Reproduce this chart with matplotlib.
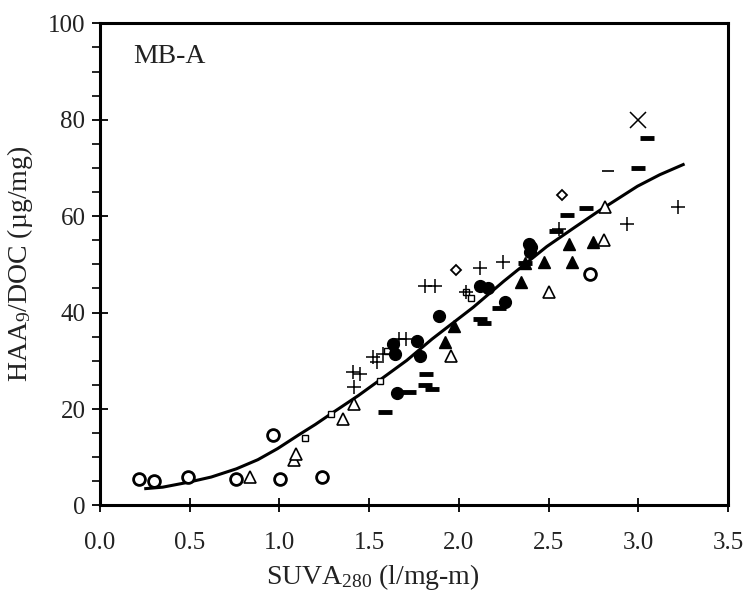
import numpy as np
import matplotlib
matplotlib.use('Agg')
import matplotlib.pyplot as plt
from matplotlib.ticker import MultipleLocator

plt.rcParams['font.family'] = ['Liberation Serif', 'DejaVu Serif']
plt.rcParams['mathtext.fontset'] = 'custom'
plt.rcParams['mathtext.rm'] = 'Liberation Serif'
plt.rcParams['mathtext.it'] = 'Liberation Serif'

# open hexagons / circles
hex_x = [0.215, 0.30, 0.49, 0.76, 0.965, 1.005, 1.24, 2.73]
hex_y = [5.5, 5.0, 5.9, 5.5, 14.7, 5.4, 5.9, 48.1]

# open triangles
tri_x = [0.835, 1.08, 1.095, 1.355, 1.415, 1.955, 2.505, 2.81, 2.815]
tri_y = [5.9, 9.5, 10.6, 18.0, 21.1, 31.1, 44.3, 55.1, 62.0]

# small open squares
sq_x = [1.145, 1.285, 1.56, 1.60, 1.635, 2.04, 2.07]
sq_y = [14.0, 19.0, 25.8, 32.0, 33.6, 44.3, 43.1]

# plus signs
plus_x = [1.415, 1.41, 1.45, 1.52, 1.545, 1.575, 1.665, 1.705, 1.81, 1.865,
          2.04, 2.115, 2.245, 2.56, 2.935, 3.22]
plus_y = [24.5, 27.7, 27.3, 30.8, 29.7, 31.5, 34.6, 34.6, 45.5, 45.5,
          44.3, 49.2, 50.5, 57.4, 58.4, 62.0]

# small open diamonds
dia_x = [1.985, 2.575]
dia_y = [48.8, 64.3]

# filled circles
fc_x = [1.635, 1.645, 1.655, 1.765, 1.785, 1.89, 2.115, 2.16, 2.255, 2.39, 2.395, 2.40]
fc_y = [33.4, 31.5, 23.4, 34.2, 31.1, 39.2, 45.5, 45.2, 42.2, 54.2, 52.5, 53.6]

# filled triangles
ft_x = [1.92, 1.975, 2.345, 2.37, 2.475, 2.615, 2.63, 2.75]
ft_y = [33.8, 37.3, 46.3, 50.2, 50.4, 54.3, 50.5, 54.6]

# bold dashes
bd_x = [1.59, 1.72, 1.815, 1.81, 1.85, 2.115, 2.14, 2.225, 2.37, 2.54,
        2.60, 2.71, 3.00, 3.05]
bd_y = [19.4, 23.5, 27.2, 24.9, 24.2, 38.6, 37.8, 41.0, 50.2, 57.0,
        60.3, 61.6, 70.0, 76.2]

# thin dash and cross
td_x = [2.83]
td_y = [69.3]
cr_x = [3.00]
cr_y = [80.0]

# fitted curve
curve_x = [0.255, 0.35, 0.49, 0.62, 0.76, 0.88, 0.99, 1.11, 1.2, 1.275, 1.44,
           1.57, 1.71, 1.85, 2.08, 2.25, 2.49, 2.65, 2.785, 2.995, 3.12, 3.25]
curve_y = [3.5, 3.8, 4.8, 5.9, 7.6, 9.5, 11.8, 14.7, 16.8, 18.7, 22.8,
           26.3, 30.1, 34.5, 41.1, 46.5, 53.7, 57.8, 61.2, 66.2, 68.6, 70.7]

fig = plt.figure(figsize=(7.49, 5.91), dpi=100)
ax = fig.add_axes([0.1335, 0.1447, 0.8385, 0.8159])

ax.plot(curve_x, curve_y, color='black', lw=2.2, zorder=3)

ax.plot(hex_x, hex_y, 'o', ms=8.5, mfc='white', mec='black', mew=2.0, zorder=4)
ax.plot(tri_x, tri_y, '^', ms=8, mfc='white', mec='black', mew=1.2, zorder=4)
ax.plot(sq_x, sq_y, 's', ms=4.5, mfc='white', mec='black', mew=1.0, zorder=4)
ax.plot(plus_x, plus_y, '+', ms=10, mec='black', mew=1.1, zorder=4)
ax.plot(dia_x, dia_y, 'D', ms=5.5, mfc='white', mec='black', mew=1.3, zorder=4)
ax.plot(fc_x, fc_y, 'o', ms=8.5, color='black', zorder=4)
ax.plot(ft_x, ft_y, '^', ms=8, color='black', zorder=4)
ax.plot(bd_x, bd_y, '_', ms=10, mec='black', mew=3.5, zorder=4)
ax.plot(td_x, td_y, '_', ms=9, mec='black', mew=1.2, zorder=4)
ax.plot(cr_x, cr_y, 'x', ms=11, mec='black', mew=1.1, zorder=4)

ax.set_xlim(0, 3.5)
ax.set_ylim(0, 100)
ax.xaxis.set_major_locator(MultipleLocator(0.5))
ax.yaxis.set_major_locator(MultipleLocator(20))
ax.yaxis.set_minor_locator(MultipleLocator(5))
ax.xaxis.set_major_formatter(plt.FuncFormatter(lambda v, p: f'{v:.1f}'))

for s in ax.spines.values():
    s.set_linewidth(2.2)

ax.tick_params(axis='x', which='major', direction='inout', length=10, width=1.3,
               pad=14, labelsize=18, labelcolor='#222222')
ax.tick_params(axis='y', which='major', direction='inout', length=11, width=1.3,
               pad=5, labelsize=18, labelcolor='#222222')
ax.tick_params(axis='y', which='minor', direction='out', length=6, width=1.2)

ax.set_xlabel('SUVA$_{280}$ (l/mg-m)', fontsize=20, color='#222222')
ax.set_ylabel('HAA$_{9}$/DOC (\u00b5g/mg)', fontsize=20, color='#222222')
ax.xaxis.set_label_coords(0.435, -0.118)
ax.yaxis.set_label_coords(-0.103, 0.5)

ax.text(0.053, 0.918, 'MB-A', transform=ax.transAxes, fontsize=20,
        color='#222222', va='baseline', ha='left')

fig.savefig('out.png', dpi=100)
